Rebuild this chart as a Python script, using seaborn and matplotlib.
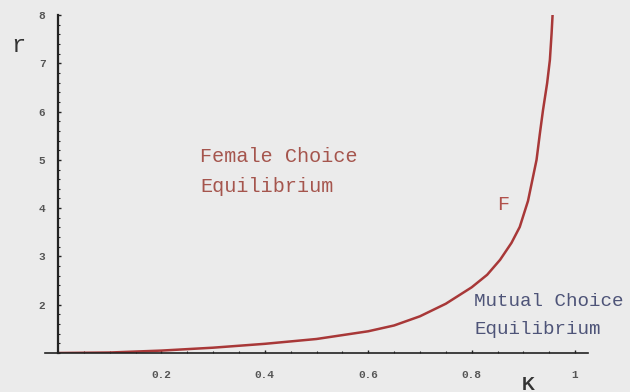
import matplotlib
matplotlib.use("Agg")
import matplotlib.pyplot as plt
import seaborn as sns
import pandas as pd
from matplotlib.ticker import MultipleLocator

# data
kappa = [0.0, 0.1, 0.2, 0.3, 0.4, 0.5, 0.6, 0.65, 0.7, 0.75, 0.8, 0.83, 0.855,
         0.877, 0.893, 0.909, 0.9255, 0.932, 0.938, 0.946, 0.9513, 0.9546, 0.9565]
r_vals = [1.0, 1.01, 1.05, 1.11, 1.19, 1.29, 1.45, 1.57, 1.76, 2.02, 2.36, 2.62,
          2.93, 3.28, 3.61, 4.15, 5.0, 5.55, 6.03, 6.59, 7.07, 7.62, 8.0]
x_ticks = [0.2, 0.4, 0.6, 0.8, 1.0]
x_tick_labels = ["0.2", "0.4", "0.6", "0.8", "1"]
y_ticks = [2, 3, 4, 5, 6, 7, 8]

df = pd.DataFrame({"k": kappa, "r": r_vals})

sns.set_theme(style="white")
bg = "#ebebeb"
fig = plt.figure(figsize=(6.3, 3.92), dpi=100, facecolor=bg)
ax = fig.add_axes([45/630, 39/392, 543/630, 338/392])
ax.set_facecolor(bg)

sns.lineplot(data=df, x="k", y="r", ax=ax, color="#a83838", linewidth=1.8,
             sort=False, estimator=None)

ax.set_xlim(-0.025, 1.025)
ax.set_ylim(1, 8)
for s in ["top", "right"]:
    ax.spines[s].set_visible(False)
ax.spines["left"].set_position(("data", 0))
ax.spines["left"].set_color("#222222")
ax.spines["bottom"].set_color("#222222")
ax.spines["left"].set_linewidth(1.6)
ax.spines["bottom"].set_linewidth(1.2)

ax.set_xticks(x_ticks)
ax.set_xticklabels(x_tick_labels)
ax.set_yticks(y_ticks)
ax.set_yticklabels([str(v) for v in y_ticks])
ax.xaxis.set_minor_locator(MultipleLocator(0.05))
ax.yaxis.set_minor_locator(MultipleLocator(0.2))
ax.tick_params(axis="both", which="major", direction="in", length=2.5, width=1,
               color="#222222", labelsize=8, labelcolor="#555555")
ax.tick_params(axis="both", which="minor", direction="in", length=1.5, width=0.8,
               color="#222222")
ax.tick_params(axis="x", which="major", pad=12)
ax.tick_params(axis="y", which="major", pad=9)
ax.tick_params(axis="x", which="both", bottom=True)
ax.tick_params(axis="y", which="both", left=True)
for lab in ax.get_xticklabels() + ax.get_yticklabels():
    lab.set_fontfamily("Liberation Mono")
    lab.set_fontweight("bold")

ax.set_xlabel("")
ax.set_ylabel("")

fig.text(18/630, 1 - 45/392, "r", fontsize=17, family="Liberation Mono",
         color="#333333", ha="center", va="center")
fig.text(528/630, 1 - 385/392, "K", fontsize=13, family="Liberation Sans",
         fontweight="bold", color="#333333", ha="center", va="center")

red_txt = "#a5554d"
blue_txt = "#4e5478"
txt_kw = dict(fontsize=14.5, family="Liberation Mono", ha="left", va="center")
fig.text(200/630, 1 - 157/392, "Female Choice", color=red_txt, **txt_kw)
fig.text(200/630, 1 - 186/392, "Equilibrium", color=red_txt, **txt_kw)
fig.text(503/630, 1 - 205/392, "F", fontsize=14.5, family="Liberation Mono",
         color="#b0504a", ha="center", va="center")
mut_kw = dict(fontsize=13.8, family="Liberation Mono", ha="left", va="center")
fig.text(474/630, 1 - 301/392, "Mutual Choice", color=blue_txt, **mut_kw)
fig.text(474/630, 1 - 329/392, "Equilibrium", color=blue_txt, **mut_kw)

fig.savefig("out.png", dpi=100, facecolor=bg)
